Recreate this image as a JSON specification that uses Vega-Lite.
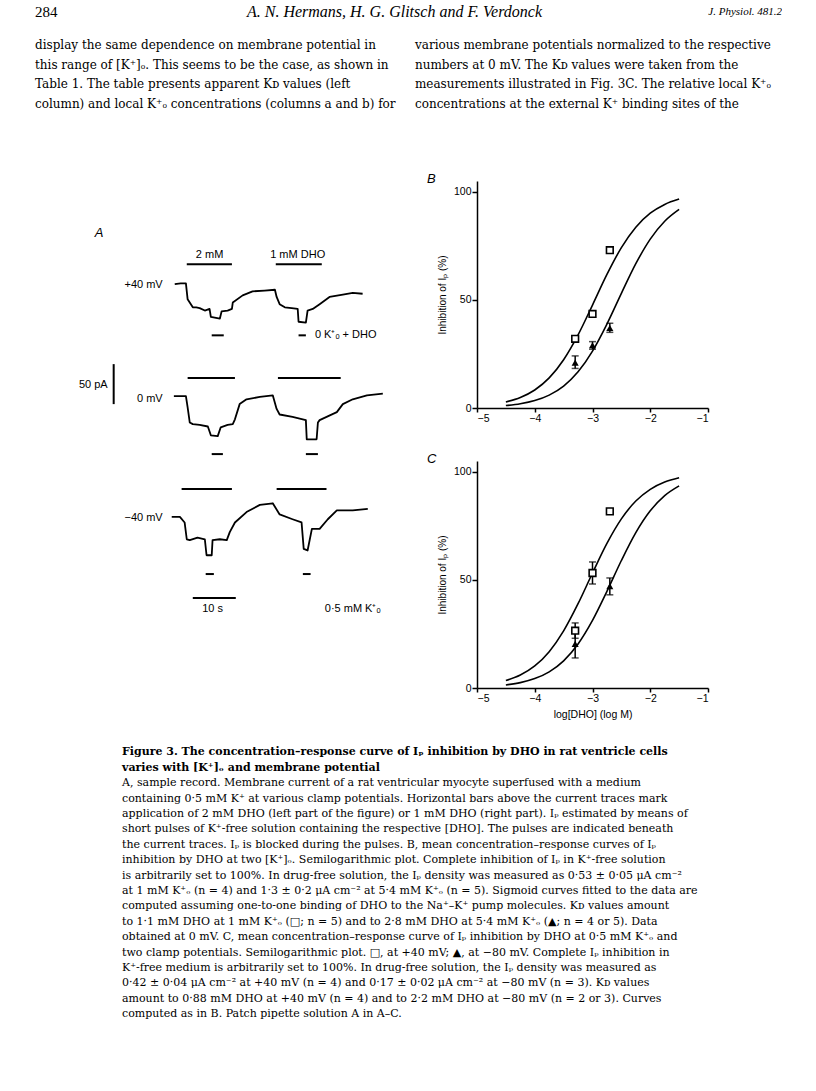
{
  "$schema": "https://vega.github.io/schema/vega-lite/v6.json",
  "padding": {"left": 35, "top": 4, "right": 0, "bottom": 0},
  "background": "white",
  "spacing": 0,
  "bounds": "full",
  "config": {
    "view": {"stroke": null},
    "font": "Liberation Sans",
    "axis": {"labelFont": "Liberation Sans", "titleFont": "Liberation Sans", "labelColor": "black", "titleColor": "black", "domainColor": "black", "tickColor": "black", "grid": false, "titleFontWeight": "normal"}
  },
  "datasets": {
    "header": [
      {"pos": "left", "text": "284"},
      {"pos": "center", "text": "A. N. Hermans, H. G. Glitsch and F. Verdonck"},
      {"pos": "right", "text": "J. Physiol. 481.2"}
    ],
    "body": [
      {"col": "left", "line": 1, "text": "display the same dependence on membrane potential in"},
      {"col": "left", "line": 2, "text": "this range of [K⁺]ₒ. This seems to be the case, as shown in"},
      {"col": "left", "line": 3, "text": "Table 1. The table presents apparent Kᴅ values (left"},
      {"col": "left", "line": 4, "text": "column) and local K⁺ₒ concentrations (columns a and b) for"},
      {"col": "right", "line": 1, "text": "various membrane potentials normalized to the respective"},
      {"col": "right", "line": 2, "text": "numbers at 0 mV. The Kᴅ values were taken from the"},
      {"col": "right", "line": 3, "text": "measurements illustrated in Fig. 3C. The relative local K⁺ₒ"},
      {"col": "right", "line": 4, "text": "concentrations at the external K⁺ binding sites of the"}
    ],
    "caption": [
      {"col": "c", "line": 1, "bold": true, "text": "Figure 3. The concentration–response curve of Iₚ inhibition by DHO in rat ventricle cells"},
      {"col": "c", "line": 2, "bold": true, "text": "varies with [K⁺]ₒ and membrane potential"},
      {"col": "c", "line": 3, "bold": false, "text": "A, sample record. Membrane current of a rat ventricular myocyte superfused with a medium"},
      {"col": "c", "line": 4, "bold": false, "text": "containing 0·5 mM K⁺ at various clamp potentials. Horizontal bars above the current traces mark"},
      {"col": "c", "line": 5, "bold": false, "text": "application of 2 mM DHO (left part of the figure) or 1 mM DHO (right part). Iₚ estimated by means of"},
      {"col": "c", "line": 6, "bold": false, "text": "short pulses of K⁺-free solution containing the respective [DHO]. The pulses are indicated beneath"},
      {"col": "c", "line": 7, "bold": false, "text": "the current traces. Iₚ is blocked during the pulses. B, mean concentration–response curves of Iₚ"},
      {"col": "c", "line": 8, "bold": false, "text": "inhibition by DHO at two [K⁺]ₒ. Semilogarithmic plot. Complete inhibition of Iₚ in K⁺-free solution"},
      {"col": "c", "line": 9, "bold": false, "text": "is arbitrarily set to 100%. In drug-free solution, the Iₚ density was measured as 0·53 ± 0·05 μA cm⁻²"},
      {"col": "c", "line": 10, "bold": false, "text": "at 1 mM K⁺ₒ (n = 4) and 1·3 ± 0·2 μA cm⁻² at 5·4 mM K⁺ₒ (n = 5). Sigmoid curves fitted to the data are"},
      {"col": "c", "line": 11, "bold": false, "text": "computed assuming one-to-one binding of DHO to the Na⁺–K⁺ pump molecules. Kᴅ values amount"},
      {"col": "c", "line": 12, "bold": false, "text": "to 1·1 mM DHO at 1 mM K⁺ₒ (□; n = 5) and to 2·8 mM DHO at 5·4 mM K⁺ₒ (▲; n = 4 or 5). Data"},
      {"col": "c", "line": 13, "bold": false, "text": "obtained at 0 mV. C, mean concentration–response curve of Iₚ inhibition by DHO at 0·5 mM K⁺ₒ and"},
      {"col": "c", "line": 14, "bold": false, "text": "two clamp potentials. Semilogarithmic plot. □, at +40 mV; ▲, at −80 mV. Complete Iₚ inhibition in"},
      {"col": "c", "line": 15, "bold": false, "text": "K⁺-free medium is arbitrarily set to 100%. In drug-free solution, the Iₚ density was measured as"},
      {"col": "c", "line": 16, "bold": false, "text": "0·42 ± 0·04 μA cm⁻² at +40 mV (n = 4) and 0·17 ± 0·02 μA cm⁻² at −80 mV (n = 3). Kᴅ values"},
      {"col": "c", "line": 17, "bold": false, "text": "amount to 0·88 mM DHO at +40 mV (n = 4) and to 2·2 mM DHO at −80 mV (n = 2 or 3). Curves"},
      {"col": "c", "line": 18, "bold": false, "text": "computed as in B. Patch pipette solution A in A–C."}
    ],
    "traces": [
      {"tr": "p40", "t": 0, "v": 505}, {"tr": "p40", "t": 1.4, "v": 506}, {"tr": "p40", "t": 2.6, "v": 506},
      {"tr": "p40", "t": 3.0, "v": 486}, {"tr": "p40", "t": 4.2, "v": 476}, {"tr": "p40", "t": 5.0, "v": 476},
      {"tr": "p40", "t": 5.8, "v": 475}, {"tr": "p40", "t": 7.0, "v": 472}, {"tr": "p40", "t": 8.1, "v": 474},
      {"tr": "p40", "t": 8.4, "v": 464}, {"tr": "p40", "t": 10.5, "v": 462}, {"tr": "p40", "t": 10.9, "v": 471},
      {"tr": "p40", "t": 12.3, "v": 472}, {"tr": "p40", "t": 13.3, "v": 474}, {"tr": "p40", "t": 13.5, "v": 482},
      {"tr": "p40", "t": 15.8, "v": 491}, {"tr": "p40", "t": 18.1, "v": 496}, {"tr": "p40", "t": 20.9, "v": 497},
      {"tr": "p40", "t": 23.3, "v": 498}, {"tr": "p40", "t": 23.7, "v": 489}, {"tr": "p40", "t": 24.4, "v": 480},
      {"tr": "p40", "t": 25.6, "v": 476}, {"tr": "p40", "t": 27.2, "v": 475}, {"tr": "p40", "t": 28.6, "v": 474},
      {"tr": "p40", "t": 28.8, "v": 458}, {"tr": "p40", "t": 30.5, "v": 457}, {"tr": "p40", "t": 30.9, "v": 472},
      {"tr": "p40", "t": 32.1, "v": 474}, {"tr": "p40", "t": 33.7, "v": 480}, {"tr": "p40", "t": 36.0, "v": 489},
      {"tr": "p40", "t": 39.1, "v": 492}, {"tr": "p40", "t": 41.4, "v": 494}, {"tr": "p40", "t": 43.7, "v": 493},
      {"tr": "p0", "t": -0.2, "v": 365}, {"tr": "p0", "t": 2.6, "v": 365}, {"tr": "p0", "t": 3.0, "v": 351},
      {"tr": "p0", "t": 3.5, "v": 332}, {"tr": "p0", "t": 4.2, "v": 330}, {"tr": "p0", "t": 5.8, "v": 329},
      {"tr": "p0", "t": 7.7, "v": 327}, {"tr": "p0", "t": 8.4, "v": 316}, {"tr": "p0", "t": 10.0, "v": 315},
      {"tr": "p0", "t": 10.7, "v": 326}, {"tr": "p0", "t": 12.3, "v": 329}, {"tr": "p0", "t": 13.5, "v": 330},
      {"tr": "p0", "t": 14.0, "v": 336}, {"tr": "p0", "t": 15.1, "v": 355}, {"tr": "p0", "t": 16.7, "v": 361},
      {"tr": "p0", "t": 19.8, "v": 364}, {"tr": "p0", "t": 22.8, "v": 366}, {"tr": "p0", "t": 23.7, "v": 349},
      {"tr": "p0", "t": 24.4, "v": 342}, {"tr": "p0", "t": 27.4, "v": 339}, {"tr": "p0", "t": 30.5, "v": 335},
      {"tr": "p0", "t": 30.7, "v": 311}, {"tr": "p0", "t": 33.0, "v": 311}, {"tr": "p0", "t": 33.3, "v": 332},
      {"tr": "p0", "t": 33.7, "v": 335}, {"tr": "p0", "t": 37.7, "v": 345}, {"tr": "p0", "t": 39.1, "v": 355},
      {"tr": "p0", "t": 41.4, "v": 361}, {"tr": "p0", "t": 44.7, "v": 366}, {"tr": "p0", "t": 48.4, "v": 368},
      {"tr": "m40", "t": -0.7, "v": 214}, {"tr": "m40", "t": 1.2, "v": 214}, {"tr": "m40", "t": 2.3, "v": 207},
      {"tr": "m40", "t": 2.8, "v": 186}, {"tr": "m40", "t": 3.5, "v": 185}, {"tr": "m40", "t": 5.3, "v": 188},
      {"tr": "m40", "t": 7.0, "v": 186}, {"tr": "m40", "t": 7.4, "v": 166}, {"tr": "m40", "t": 8.6, "v": 166},
      {"tr": "m40", "t": 8.8, "v": 185}, {"tr": "m40", "t": 10.5, "v": 186}, {"tr": "m40", "t": 12.1, "v": 185},
      {"tr": "m40", "t": 12.8, "v": 195}, {"tr": "m40", "t": 14.0, "v": 207}, {"tr": "m40", "t": 16.7, "v": 220},
      {"tr": "m40", "t": 19.8, "v": 229}, {"tr": "m40", "t": 22.8, "v": 231}, {"tr": "m40", "t": 24.4, "v": 217},
      {"tr": "m40", "t": 27.4, "v": 211}, {"tr": "m40", "t": 29.5, "v": 207}, {"tr": "m40", "t": 30.0, "v": 174},
      {"tr": "m40", "t": 30.9, "v": 172}, {"tr": "m40", "t": 31.9, "v": 199}, {"tr": "m40", "t": 33.7, "v": 199},
      {"tr": "m40", "t": 35.6, "v": 211}, {"tr": "m40", "t": 37.7, "v": 222}, {"tr": "m40", "t": 41.4, "v": 222},
      {"tr": "m40", "t": 44.9, "v": 224}
    ],
    "hbars": [
      {"t": 2.8, "t2": 13.3, "v": 530}, {"t": 23.5, "t2": 34.2, "v": 530},
      {"t": 3.0, "t2": 14.0, "v": 387.5}, {"t": 24.0, "t2": 38.6, "v": 387.5},
      {"t": 1.6, "t2": 13.3, "v": 249}, {"t": 23.7, "t2": 35.3, "v": 249},
      {"t": 8.6, "t2": 11.4, "v": 441}, {"t": 28.8, "t2": 30.5, "v": 441},
      {"t": 8.6, "t2": 11.2, "v": 292.5}, {"t": 30.5, "t2": 33.3, "v": 292.5},
      {"t": 7.2, "t2": 9.1, "v": 142.5}, {"t": 29.8, "t2": 31.6, "v": 142.5},
      {"t": 4.2, "t2": 14.2, "v": 112.5}
    ],
    "vbars": [{"t": -14.2, "v": 355, "v2": 405}],
    "labels": [
      {"t": 8.1, "v": 541, "text": "2 mM", "align": "center"},
      {"t": 28.6, "v": 541, "text": "1 mM DHO", "align": "center"},
      {"t": -2.8, "v": 504, "text": "+40 mV", "align": "right"},
      {"t": 32.6, "v": 441, "text": "0 K⁺ₒ + DHO", "align": "left"},
      {"t": -15.6, "v": 379, "text": "50 pA", "align": "right"},
      {"t": -2.8, "v": 361, "text": "0 mV", "align": "right"},
      {"t": -2.8, "v": 212, "text": "−40 mV", "align": "right"},
      {"t": 8.8, "v": 99, "text": "10 s", "align": "center"},
      {"t": 34.9, "v": 99, "text": "0·5 mM K⁺ₒ", "align": "left"},
      {"t": -18.6, "v": 569, "text": "A", "align": "italic"}
    ],
    "curves": [
      {"panel": "B", "s": "1 mM", "x": -4.5, "y": 2.79}, {"panel": "B", "s": "1 mM", "x": -4.25, "y": 4.86}, {"panel": "B", "s": "1 mM", "x": -4.0, "y": 8.33},
      {"panel": "B", "s": "1 mM", "x": -3.75, "y": 13.92}, {"panel": "B", "s": "1 mM", "x": -3.5, "y": 22.33}, {"panel": "B", "s": "1 mM", "x": -3.25, "y": 33.83},
      {"panel": "B", "s": "1 mM", "x": -3.0, "y": 47.62}, {"panel": "B", "s": "1 mM", "x": -2.75, "y": 61.78}, {"panel": "B", "s": "1 mM", "x": -2.5, "y": 74.19},
      {"panel": "B", "s": "1 mM", "x": -2.25, "y": 83.64}, {"panel": "B", "s": "1 mM", "x": -2.0, "y": 90.09}, {"panel": "B", "s": "1 mM", "x": -1.75, "y": 94.17},
      {"panel": "B", "s": "1 mM", "x": -1.5, "y": 96.64},
      {"panel": "B", "s": "5.4 mM", "x": -4.5, "y": 1.12}, {"panel": "B", "s": "5.4 mM", "x": -4.25, "y": 1.97}, {"panel": "B", "s": "5.4 mM", "x": -4.0, "y": 3.45},
      {"panel": "B", "s": "5.4 mM", "x": -3.75, "y": 5.97}, {"panel": "B", "s": "5.4 mM", "x": -3.5, "y": 10.14}, {"panel": "B", "s": "5.4 mM", "x": -3.25, "y": 16.72},
      {"panel": "B", "s": "5.4 mM", "x": -3.0, "y": 26.32}, {"panel": "B", "s": "5.4 mM", "x": -2.75, "y": 38.83}, {"panel": "B", "s": "5.4 mM", "x": -2.5, "y": 53.03},
      {"panel": "B", "s": "5.4 mM", "x": -2.25, "y": 66.76}, {"panel": "B", "s": "5.4 mM", "x": -2.0, "y": 78.13}, {"panel": "B", "s": "5.4 mM", "x": -1.75, "y": 86.39},
      {"panel": "B", "s": "5.4 mM", "x": -1.5, "y": 91.86},
      {"panel": "C", "s": "+40 mV", "x": -4.5, "y": 3.47}, {"panel": "C", "s": "+40 mV", "x": -4.25, "y": 6.01}, {"panel": "C", "s": "+40 mV", "x": -4.0, "y": 10.2},
      {"panel": "C", "s": "+40 mV", "x": -3.75, "y": 16.81}, {"panel": "C", "s": "+40 mV", "x": -3.5, "y": 26.43}, {"panel": "C", "s": "+40 mV", "x": -3.25, "y": 38.99},
      {"panel": "C", "s": "+40 mV", "x": -3.0, "y": 53.19}, {"panel": "C", "s": "+40 mV", "x": -2.75, "y": 66.89}, {"panel": "C", "s": "+40 mV", "x": -2.5, "y": 78.23},
      {"panel": "C", "s": "+40 mV", "x": -2.25, "y": 86.47}, {"panel": "C", "s": "+40 mV", "x": -2.0, "y": 91.91}, {"panel": "C", "s": "+40 mV", "x": -1.75, "y": 95.28},
      {"panel": "C", "s": "+40 mV", "x": -1.5, "y": 97.29},
      {"panel": "C", "s": "-80 mV", "x": -4.5, "y": 1.42}, {"panel": "C", "s": "-80 mV", "x": -4.25, "y": 2.49}, {"panel": "C", "s": "-80 mV", "x": -4.0, "y": 4.35},
      {"panel": "C", "s": "-80 mV", "x": -3.75, "y": 7.48}, {"panel": "C", "s": "-80 mV", "x": -3.5, "y": 12.57}, {"panel": "C", "s": "-80 mV", "x": -3.25, "y": 20.36},
      {"panel": "C", "s": "-80 mV", "x": -3.0, "y": 31.25}, {"panel": "C", "s": "-80 mV", "x": -2.75, "y": 44.7}, {"panel": "C", "s": "-80 mV", "x": -2.5, "y": 58.97},
      {"panel": "C", "s": "-80 mV", "x": -2.25, "y": 71.88}, {"panel": "C", "s": "-80 mV", "x": -2.0, "y": 81.97}, {"panel": "C", "s": "-80 mV", "x": -1.75, "y": 88.99},
      {"panel": "C", "s": "-80 mV", "x": -1.5, "y": 93.5}
    ],
    "points": [
      {"panel": "B", "sym": "square", "x": -3.3, "y": 32, "lo": null, "hi": null},
      {"panel": "B", "sym": "square", "x": -3.0, "y": 43.5, "lo": 42.5, "hi": 44.5},
      {"panel": "B", "sym": "square", "x": -2.7, "y": 73, "lo": null, "hi": null},
      {"panel": "B", "sym": "triangle", "x": -3.3, "y": 21, "lo": 18.3, "hi": 24.1},
      {"panel": "B", "sym": "triangle", "x": -3.0, "y": 29, "lo": 27.2, "hi": 30.7},
      {"panel": "B", "sym": "triangle", "x": -2.7, "y": 37, "lo": 35, "hi": 39.2},
      {"panel": "C", "sym": "square", "x": -3.3, "y": 26.5, "lo": 23, "hi": 30.1},
      {"panel": "C", "sym": "square", "x": -3.0, "y": 53.2, "lo": 48.1, "hi": 58.3},
      {"panel": "C", "sym": "square", "x": -2.7, "y": 81.7, "lo": 80.8, "hi": 82.6},
      {"panel": "C", "sym": "triangle", "x": -3.3, "y": 20.4, "lo": 13.9, "hi": 25.5},
      {"panel": "C", "sym": "triangle", "x": -2.7, "y": 47.1, "lo": 43.1, "hi": 50.9}
    ]
  },
  "vconcat": [
    {
      "width": 747, "height": 16,
      "data": {"name": "header"},
      "encoding": {
        "x": {"field": "pos", "type": "nominal", "scale": {"type": "point", "padding": 0, "domain": ["left", "center", "right"]}, "axis": null},
        "text": {"field": "text"}
      },
      "layer": [
        {"transform": [{"filter": "datum.pos == 'left'"}], "mark": {"type": "text", "align": "left", "baseline": "middle", "font": "Liberation Serif", "fontSize": 15, "color": "black"}},
        {"transform": [{"filter": "datum.pos == 'center'"}], "mark": {"type": "text", "align": "center", "baseline": "middle", "font": "Liberation Serif", "fontStyle": "italic", "fontSize": 16, "dx": -14, "color": "black"}},
        {"transform": [{"filter": "datum.pos == 'right'"}], "mark": {"type": "text", "align": "right", "baseline": "middle", "font": "Liberation Serif", "fontStyle": "italic", "fontSize": 11, "color": "black"}}
      ]
    },
    {
      "width": 747, "height": 153,
      "data": {"name": "body"},
      "mark": {"type": "text", "align": "left", "baseline": "middle", "font": "DejaVu Serif", "fontSize": 12, "color": "black"},
      "encoding": {
        "x": {"field": "col", "type": "nominal", "bandPosition": 0, "scale": {"type": "band", "paddingInner": 0.034, "paddingOuter": 0}, "axis": null},
        "y": {"field": "line", "type": "quantitative", "scale": {"domain": [-0.269, 7.498], "nice": false, "zero": false, "reverse": true}, "axis": null},
        "text": {"field": "text"}
      }
    },
    {
      "hconcat": [
        {
          "width": 356, "height": 507,
          "layer": [
            {
              "data": {"name": "traces"},
              "mark": {"type": "line", "color": "black", "strokeWidth": 1.8, "strokeJoin": "round"},
              "encoding": {
                "x": {"field": "t", "type": "quantitative", "scale": {"domain": [-32.5, 50.3], "nice": false, "zero": false}, "axis": null},
                "y": {"field": "v", "type": "quantitative", "scale": {"domain": [0, 634], "nice": false, "zero": false}, "axis": null},
                "detail": {"field": "tr"}
              }
            },
            {
              "data": {"name": "hbars"},
              "mark": {"type": "rule", "color": "black", "strokeWidth": 2},
              "encoding": {
                "x": {"field": "t", "type": "quantitative"},
                "x2": {"field": "t2"},
                "y": {"field": "v", "type": "quantitative"}
              }
            },
            {
              "data": {"name": "vbars"},
              "mark": {"type": "rule", "color": "black", "strokeWidth": 2},
              "encoding": {
                "x": {"field": "t", "type": "quantitative"},
                "y": {"field": "v", "type": "quantitative"},
                "y2": {"field": "v2"}
              }
            },
            {
              "data": {"name": "labels"},
              "transform": [{"filter": "datum.align == 'center'"}],
              "mark": {"type": "text", "align": "center", "baseline": "middle", "font": "Liberation Sans", "fontSize": 11, "color": "black"},
              "encoding": {"x": {"field": "t", "type": "quantitative"}, "y": {"field": "v", "type": "quantitative"}, "text": {"field": "text"}}
            },
            {
              "data": {"name": "labels"},
              "transform": [{"filter": "datum.align == 'right'"}],
              "mark": {"type": "text", "align": "right", "baseline": "middle", "font": "Liberation Sans", "fontSize": 11, "color": "black"},
              "encoding": {"x": {"field": "t", "type": "quantitative"}, "y": {"field": "v", "type": "quantitative"}, "text": {"field": "text"}}
            },
            {
              "data": {"name": "labels"},
              "transform": [{"filter": "datum.align == 'left'"}],
              "mark": {"type": "text", "align": "left", "baseline": "middle", "font": "Liberation Sans", "fontSize": 11, "color": "black"},
              "encoding": {"x": {"field": "t", "type": "quantitative"}, "y": {"field": "v", "type": "quantitative"}, "text": {"field": "text"}}
            },
            {
              "data": {"name": "labels"},
              "transform": [{"filter": "datum.align == 'italic'"}],
              "mark": {"type": "text", "align": "left", "baseline": "middle", "font": "Liberation Sans", "fontStyle": "italic", "fontSize": 13, "color": "black"},
              "encoding": {"x": {"field": "t", "type": "quantitative"}, "y": {"field": "v", "type": "quantitative"}, "text": {"field": "text"}}
            }
          ]
        },
        {
          "vconcat": [
            {
              "width": 231, "height": 227,
              "title": {"text": "B", "anchor": "start", "frame": "group", "font": "Liberation Sans", "fontStyle": "italic", "fontWeight": "normal", "fontSize": 13, "dx": -50, "offset": -15, "baseline": "alphabetic", "color": "black"},
              "encoding": {
                "x": {"field": "x", "type": "quantitative", "title": null, "scale": {"domain": [-5, -1], "nice": false, "zero": false},
                      "axis": {"values": [-5, -4, -3, -2, -1], "tickSize": 4, "labelPadding": 1, "labelFontSize": 10.5, "domainWidth": 1.5, "tickWidth": 1.5}},
                "y": {"field": "y", "type": "quantitative", "title": "Inhibition of Iₚ (%)", "scale": {"domain": [0, 105], "nice": false},
                      "axis": {"values": [0, 50, 100], "tickSize": 5, "labelPadding": 1, "labelFontSize": 10.5, "titleFontSize": 10, "titlePadding": 6, "domainWidth": 1.5, "tickWidth": 1.5}}
              },
              "layer": [
                {"data": {"name": "curves"}, "transform": [{"filter": "datum.panel == 'B'"}],
                 "mark": {"type": "line", "color": "black", "strokeWidth": 1.6, "interpolate": "monotone"},
                 "encoding": {"detail": {"field": "s"}}},
                {"data": {"name": "points"}, "transform": [{"filter": "datum.panel == 'B' && datum.lo != null"}],
                 "mark": {"type": "errorbar", "ticks": {"size": 7}, "color": "black", "thickness": 1.5},
                 "encoding": {"y": {"field": "lo", "type": "quantitative", "title": "Inhibition of Iₚ (%)"}, "y2": {"field": "hi"}}},
                {"data": {"name": "points"}, "transform": [{"filter": "datum.panel == 'B' && datum.sym == 'square'"}],
                 "mark": {"type": "point", "shape": "square", "filled": true, "fill": "white", "stroke": "black", "strokeWidth": 1.6, "size": 45, "opacity": 1}},
                {"data": {"name": "points"}, "transform": [{"filter": "datum.panel == 'B' && datum.sym == 'triangle'"}],
                 "mark": {"type": "point", "shape": "triangle-up", "filled": true, "color": "black", "size": 50, "opacity": 1}}
              ]
            },
            {
              "width": 231, "height": 227,
              "title": {"text": "C", "anchor": "start", "frame": "group", "font": "Liberation Sans", "fontStyle": "italic", "fontWeight": "normal", "fontSize": 13, "dx": -50, "offset": -15, "baseline": "alphabetic", "color": "black"},
              "encoding": {
                "x": {"field": "x", "type": "quantitative", "title": "log[DHO] (log M)", "scale": {"domain": [-5, -1], "nice": false, "zero": false},
                      "axis": {"values": [-5, -4, -3, -2, -1], "tickSize": 4, "labelPadding": 1, "labelFontSize": 10.5, "titleFontSize": 10.5, "titlePadding": 6, "domainWidth": 1.5, "tickWidth": 1.5}},
                "y": {"field": "y", "type": "quantitative", "title": "Inhibition of Iₚ (%)", "scale": {"domain": [0, 105], "nice": false},
                      "axis": {"values": [0, 50, 100], "tickSize": 5, "labelPadding": 1, "labelFontSize": 10.5, "titleFontSize": 10, "titlePadding": 6, "domainWidth": 1.5, "tickWidth": 1.5}}
              },
              "layer": [
                {"data": {"name": "curves"}, "transform": [{"filter": "datum.panel == 'C'"}],
                 "mark": {"type": "line", "color": "black", "strokeWidth": 1.6, "interpolate": "monotone"},
                 "encoding": {"detail": {"field": "s"}}},
                {"data": {"name": "points"}, "transform": [{"filter": "datum.panel == 'C' && datum.lo != null"}],
                 "mark": {"type": "errorbar", "ticks": {"size": 7}, "color": "black", "thickness": 1.5},
                 "encoding": {"y": {"field": "lo", "type": "quantitative", "title": "Inhibition of Iₚ (%)"}, "y2": {"field": "hi"}}},
                {"data": {"name": "points"}, "transform": [{"filter": "datum.panel == 'C' && datum.sym == 'square'"}],
                 "mark": {"type": "point", "shape": "square", "filled": true, "fill": "white", "stroke": "black", "strokeWidth": 1.6, "size": 45, "opacity": 1}},
                {"data": {"name": "points"}, "transform": [{"filter": "datum.panel == 'C' && datum.sym == 'triangle'"}],
                 "mark": {"type": "point", "shape": "triangle-up", "filled": true, "color": "black", "size": 50, "opacity": 1}}
              ]
            }
          ],
          "spacing": 53,
          "bounds": "flush"
        }
      ],
      "spacing": 86,
      "bounds": "flush"
    },
    {
      "width": 747, "height": 320,
      "data": {"name": "caption"},
      "encoding": {
        "x": {"field": "col", "type": "nominal", "bandPosition": 0, "scale": {"type": "band", "paddingInner": 0, "paddingOuter": 0.1518}, "axis": null},
        "y": {"field": "line", "type": "quantitative", "scale": {"domain": [-1.11, 19.67], "nice": false, "zero": false, "reverse": true}, "axis": null},
        "text": {"field": "text"}
      },
      "layer": [
        {"transform": [{"filter": "datum.bold"}], "mark": {"type": "text", "align": "left", "baseline": "middle", "font": "DejaVu Serif", "fontWeight": "bold", "fontSize": 11, "color": "black"}},
        {"transform": [{"filter": "!datum.bold"}], "mark": {"type": "text", "align": "left", "baseline": "middle", "font": "DejaVu Serif", "fontSize": 11, "color": "black"}}
      ]
    }
  ]
}
